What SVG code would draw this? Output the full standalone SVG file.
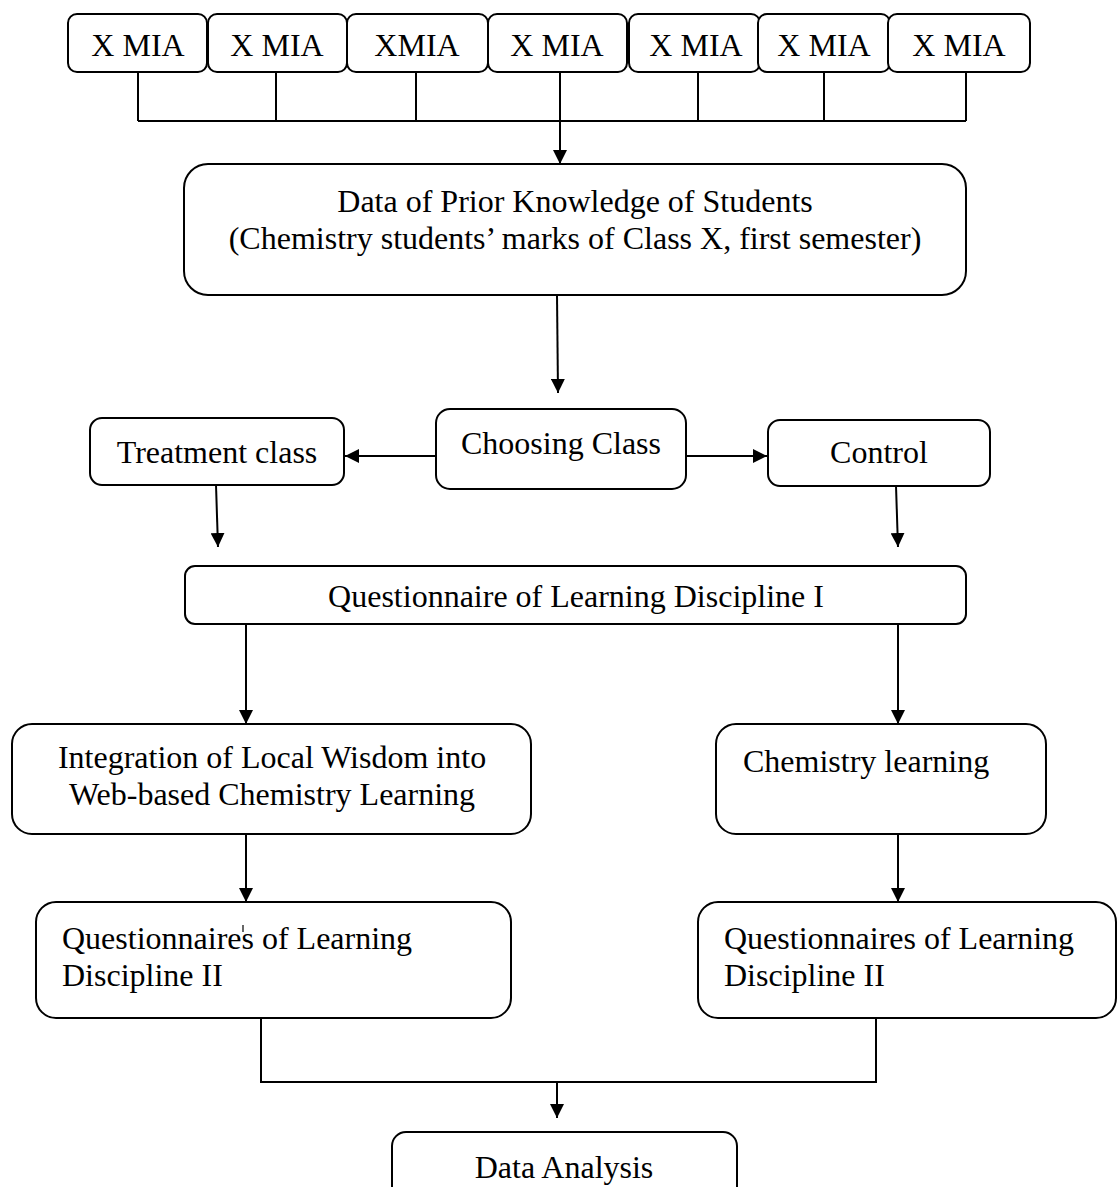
<svg xmlns="http://www.w3.org/2000/svg" width="1118" height="1187" viewBox="0 0 1118 1187">
<defs>
<style>
.box{fill:#fff;stroke:#000;stroke-width:2}
.ln{fill:none;stroke:#000;stroke-width:2}
.t{font-family:"Liberation Serif","Times New Roman",serif;font-size:32px;fill:#000}
.c{text-anchor:middle}
</style>
<marker id="arr" viewBox="0 0 14 14" refX="14" refY="7" markerWidth="14" markerHeight="14" orient="auto" markerUnits="userSpaceOnUse"><path d="M0,0 L14,7 L0,14 z" fill="#000"/></marker>
</defs>
<rect width="1118" height="1187" fill="#fff"/>
<g id="connectors">
<path class="ln" d="M138,72 V121 M276,72 V121 M416,72 V121 M560,72 V121 M698,72 V121 M824,72 V121 M966,72 V121 M138,121 H966"/>
<line class="ln" x1="560" y1="121" x2="560" y2="164" marker-end="url(#arr)"/>
<line class="ln" x1="557" y1="295" x2="558" y2="393" marker-end="url(#arr)"/>
<line class="ln" x1="436" y1="456" x2="345" y2="456" marker-end="url(#arr)"/>
<line class="ln" x1="686" y1="456" x2="767" y2="456" marker-end="url(#arr)"/>
<line class="ln" x1="216" y1="485" x2="218" y2="547" marker-end="url(#arr)"/>
<line class="ln" x1="896" y1="486" x2="898" y2="547" marker-end="url(#arr)"/>
<line class="ln" x1="246" y1="624" x2="246" y2="724" marker-end="url(#arr)"/>
<line class="ln" x1="898" y1="624" x2="898" y2="724" marker-end="url(#arr)"/>
<line class="ln" x1="246" y1="834" x2="246" y2="902" marker-end="url(#arr)"/>
<line class="ln" x1="898" y1="834" x2="898" y2="902" marker-end="url(#arr)"/>
<path class="ln" d="M261,1018 V1082 H876 V1018"/>
<line class="ln" x1="557" y1="1082" x2="557" y2="1118" marker-end="url(#arr)"/>
</g>
<g id="n1"><rect class="box" x="68" y="14" width="139" height="58" rx="9"/><text class="t c" x="138" y="56">X MIA</text></g>
<g id="n2"><rect class="box" x="208" y="14" width="139" height="58" rx="9"/><text class="t c" x="277" y="56">X MIA</text></g>
<g id="n3"><rect class="box" x="347" y="14" width="141" height="58" rx="9"/><text class="t c" x="417" y="56">XMIA</text></g>
<g id="n4"><rect class="box" x="488" y="14" width="139" height="58" rx="9"/><text class="t c" x="557" y="56">X MIA</text></g>
<g id="n5"><rect class="box" x="629" y="14" width="131" height="58" rx="9"/><text class="t c" x="696" y="56">X MIA</text></g>
<g id="n6"><rect class="box" x="758" y="14" width="132" height="58" rx="9"/><text class="t c" x="824" y="56">X MIA</text></g>
<g id="n7"><rect class="box" x="888" y="14" width="142" height="58" rx="9"/><text class="t c" x="959" y="56">X MIA</text></g>
<g id="prior"><rect class="box" x="184" y="164" width="782" height="131" rx="24"/><text class="t c" x="575" y="212">Data of Prior Knowledge of Students</text><text class="t c" x="575" y="249">(Chemistry students’ marks of Class X, first semester)</text></g>
<g id="choosing"><rect class="box" x="436" y="409" width="250" height="80" rx="14"/><text class="t c" x="561" y="454">Choosing Class</text></g>
<g id="treatment"><rect class="box" x="90" y="418" width="254" height="67" rx="12"/><text class="t c" x="217" y="463">Treatment class</text></g>
<g id="control"><rect class="box" x="768" y="420" width="222" height="66" rx="12"/><text class="t c" x="879" y="463">Control</text></g>
<g id="q1"><rect class="box" x="185" y="566" width="781" height="58" rx="10"/><text class="t c" x="576" y="607">Questionnaire of Learning Discipline I</text></g>
<g id="integration"><rect class="box" x="12" y="724" width="519" height="110" rx="20"/><text class="t c" x="272" y="768">Integration of Local Wisdom into</text><text class="t c" x="272" y="805">Web-based Chemistry Learning</text></g>
<g id="chemlearn"><rect class="box" x="716" y="724" width="330" height="110" rx="20"/><text class="t" x="743" y="772">Chemistry learning</text></g>
<g id="q2left"><rect class="box" x="36" y="902" width="475" height="116" rx="20"/><text class="t" x="62" y="949">Questionnaires of Learning</text><text class="t" x="62" y="986">Discipline II</text><line x1="243" y1="925" x2="243" y2="932" stroke="#000" stroke-width="1.2"/></g>
<g id="q2right"><rect class="box" x="698" y="902" width="418" height="116" rx="20"/><text class="t" x="724" y="949">Questionnaires of Learning</text><text class="t" x="724" y="986">Discipline II</text></g>
<g id="analysis"><rect class="box" x="392" y="1132" width="345" height="80" rx="14"/><text class="t c" x="564" y="1178">Data Analysis</text></g>
</svg>
